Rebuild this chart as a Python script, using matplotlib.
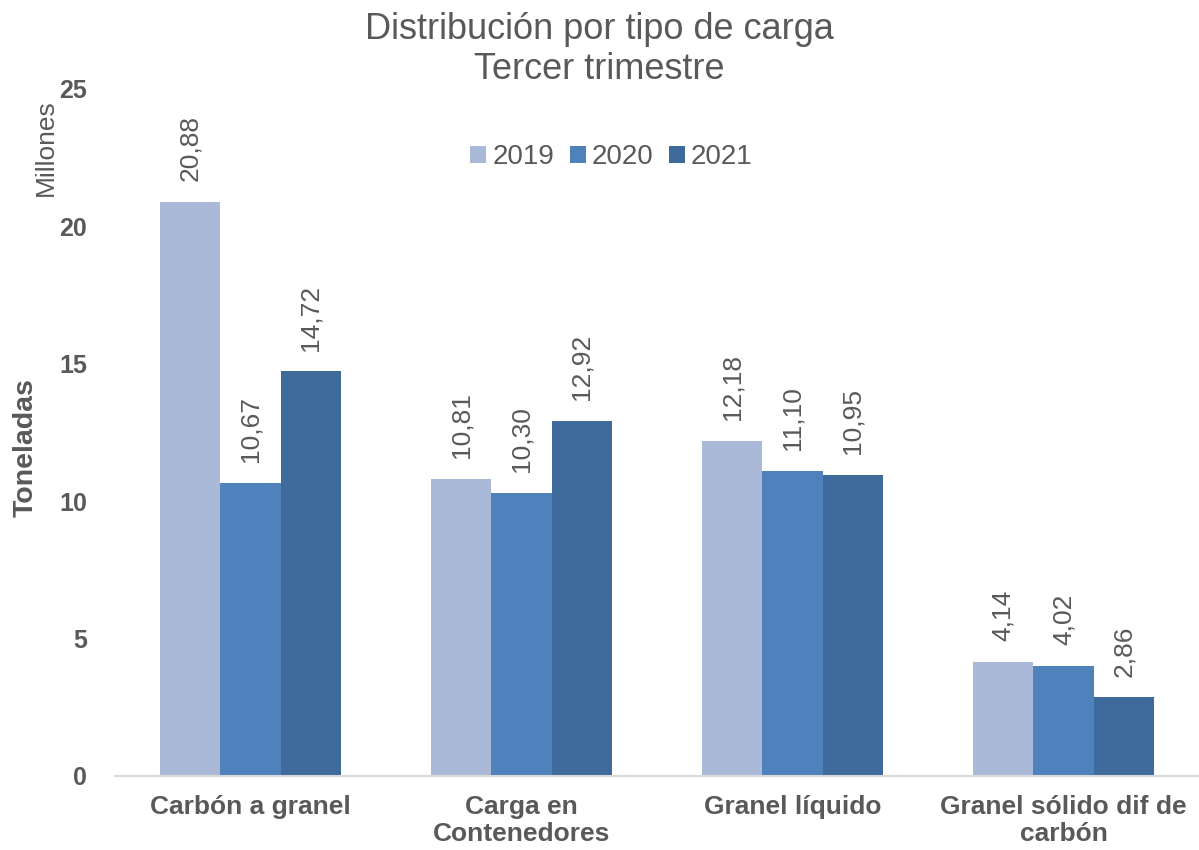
import matplotlib
matplotlib.use("Agg")
import matplotlib.pyplot as plt
import numpy as np

plt.rcParams["font.family"] = ["Liberation Sans", "DejaVu Sans"]

categories = ["Carbón a granel", "Carga en\nContenedores", "Granel líquido",
              "Granel sólido dif de\ncarbón"]
years = ["2019", "2020", "2021"]
v2019 = [20.88, 10.81, 12.18, 4.14]
v2020 = [10.67, 10.30, 11.10, 4.02]
v2021 = [14.72, 12.92, 10.95, 2.86]
yticks = [0, 5, 10, 15, 20, 25]

colors = ["#A9B9D7", "#4F81BD", "#3E6A9C"]
text_c = "#595959"

fig = plt.figure(figsize=(11.99, 8.5), dpi=100)
ax = fig.add_axes([0.0959, 0.0871, 0.9041, 0.8082])

x = np.arange(len(categories))
w = 0.222
for i, (vals, c, lab) in enumerate(zip([v2019, v2020, v2021], colors, years)):
    bars = ax.bar(x + (i - 1) * w, vals, width=w, color=c, label=lab)
    for b, v in zip(bars, vals):
        ax.annotate(f"{v:.2f}".replace(".", ","),
                    (b.get_x() + b.get_width() / 2, v),
                    xytext=(0, 15), textcoords="offset points",
                    rotation=90, ha="center", va="bottom",
                    fontsize=19, color=text_c)

ax.set_xlim(-0.5, 3.5)
ax.set_ylim(0, 25)
ax.set_yticks(yticks)
ax.set_yticklabels([str(t) for t in yticks], fontsize=18, fontweight="bold",
                   color=text_c)
ax.set_xticks(x)
ax.set_xticklabels(categories, fontsize=19, fontweight="bold", color=text_c,
                   linespacing=1.15)
ax.tick_params(axis="both", length=0)
ax.tick_params(axis="y", pad=20)
ax.tick_params(axis="x", pad=14)
for s in ("top", "right", "left"):
    ax.spines[s].set_visible(False)
ax.spines["bottom"].set_color("#D9D9D9")
ax.spines["bottom"].set_linewidth(1.5)

fig.text(0.5, 0.942, "Distribución por tipo de carga\nTercer trimestre",
         ha="center", va="center", fontsize=26, color=text_c, linespacing=1.2)
fig.text(0.038, 0.826, "Millones", rotation=90, ha="center", va="center",
         fontsize=19, color=text_c)
fig.text(0.021, 0.473, "Toneladas", rotation=90, ha="center", va="center",
         fontsize=20.5, fontweight="bold", color=text_c)

leg = ax.legend(loc="center", bbox_to_anchor=(0.51, 0.815),
                bbox_transform=fig.transFigure, ncol=3, frameon=False,
                fontsize=20, handlelength=0.58, handleheight=0.58,
                handletextpad=0.22, columnspacing=0.55)
for t in leg.get_texts():
    t.set_color(text_c)

fig.savefig("out.png", dpi=100)
